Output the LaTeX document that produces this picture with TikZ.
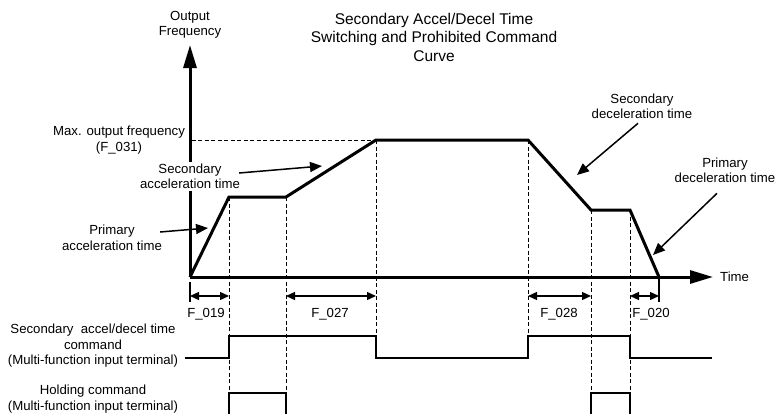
\documentclass[tikz,border=0pt]{standalone}
\usepackage{fontspec}
\setmainfont{Liberation Sans}
\usetikzlibrary{arrows.meta,calc}
\begin{document}
\begin{tikzpicture}[x=1pt,y=-1pt,
  lab/.style={font=\fontsize{13.2}{15.5}\selectfont, align=center, inner sep=0pt},
  ttl/.style={font=\fontsize{15.5}{18.5}\selectfont, align=center, inner sep=0pt},
  curve/.style={line width=3pt, line join=miter},
  axisline/.style={line width=3pt, -{Triangle[length=23pt,width=13pt]}},
  sig/.style={line width=2.4pt, line join=miter},
  guide/.style={line width=0.9pt, dash pattern=on 4pt off 2.5pt},
  dim/.style={line width=1.3pt, {Triangle[length=9pt,width=8pt]}-{Triangle[length=9pt,width=8pt]}},
  pointer/.style={line width=1.5pt, -{Triangle[length=12pt,width=10pt]}},
  tickline/.style={line width=1.2pt}]
\useasboundingbox (0,0) rectangle (777,413);

% key coordinates
\coordinate (o) at (190,277);
\coordinate (ytip) at (190,45);
\coordinate (xtip) at (713,277);
\coordinate (p1) at (229,197);
\coordinate (p2) at (286,197);
\coordinate (p3) at (376,140);
\coordinate (p4) at (528,140);
\coordinate (p5) at (591,210);
\coordinate (p6) at (630,210);
\coordinate (p7) at (659,277);
\coordinate (maxl) at (191.5,140);

% guide lines
\draw[guide] (maxl) -- (p3);
\draw[guide] (p1) -- (229,413);
\draw[guide] (p2) -- (286,413);
\draw[guide] (p3) -- (376,336);
\draw[guide] (p4) -- (528,336);
\draw[guide] (p5) -- (591,413);
\draw[guide] (p6) -- (630,413);
\draw[tickline] (190,282) -- (190,302);
\draw[tickline] (p7) -- (659,302);

% axes
\draw[axisline] (o) -- (ytip);
\draw[axisline] (o) -- (xtip);

% curve
\draw[curve] (o) -- (p1) -- (p2) -- (p3) -- (p4) -- (p5) -- (p6) -- (p7);

% dimension arrows
\coordinate (d1a) at (190,296); \coordinate (d1b) at (229,296);
\coordinate (d2a) at (286,296); \coordinate (d2b) at (376,296);
\coordinate (d3a) at (528,296); \coordinate (d3b) at (591,296);
\coordinate (d4a) at (630,296); \coordinate (d4b) at (659,296);
\draw[dim] (d1a) -- (d1b);
\draw[dim] (d2a) -- (d2b);
\draw[dim] (d3a) -- (d3b);
\draw[dim] (d4a) -- (d4b);
\node[lab, anchor=base] (f019) at (206,317.5) {F\_019};
\node[lab, anchor=base] (f027) at (330,317.5) {F\_027};
\node[lab, anchor=base] (f028) at (559,317.5) {F\_028};
\node[lab, anchor=base] (f020) at (651,317.5) {F\_020};

% signals
\draw[sig] (185,358) -- (229,358) -- (229,336) -- (376,336) -- (376,358)
  -- (528,358) -- (528,336) -- (630,336) -- (630,358) -- (712,358);
\draw[sig] (229,414) -- (229,393) -- (286,393) -- (286,414);
\draw[sig] (591,414) -- (591,393) -- (630,393) -- (630,414);

% texts
\node[lab] (yl) at (190,25) {Output\\Frequency};
\node[ttl] (title) at (434,37) {Secondary Accel/Decel Time\\Switching and Prohibited Command\\Curve};
\node[lab] (maxf) at (119,140) {Max. output frequency\\(F\_031)};
\node[lab, fill=white, inner sep=2pt] (sa) at (190,176.5) {Secondary\\acceleration time};
\node[lab] (pa) at (112,238) {Primary\\acceleration time};
\node[lab] (sd) at (642,106.5) {Secondary\\deceleration time};
\node[lab] (pd) at (725,170.5) {Primary\\deceleration time};
\node[lab, anchor=west] (tl) at (720,277) {Time};
\node[lab] (sec) at (93,346) {Secondary\ \ accel/decel time\\command\\(Multi-function input terminal)};
\node[lab] (hold) at (93,399) {Holding command\\(Multi-function input terminal)};

% pointers
\coordinate (t1) at (322,166);
\coordinate (t2) at (208,228);
\coordinate (t3) at (577,175);
\coordinate (t4) at (653,255);
\draw[pointer] ($(sa.east)+(-3,-3.5)$) -- (t1);
\draw[pointer] ($(pa.east)+(-2,-6)$) -- (t2);
\draw[pointer] ($(sd.south)+(-4,4)$) -- (t3);
\draw[pointer] ($(pd.south)+(-8,10)$) -- (t4);
\end{tikzpicture}
\end{document}
